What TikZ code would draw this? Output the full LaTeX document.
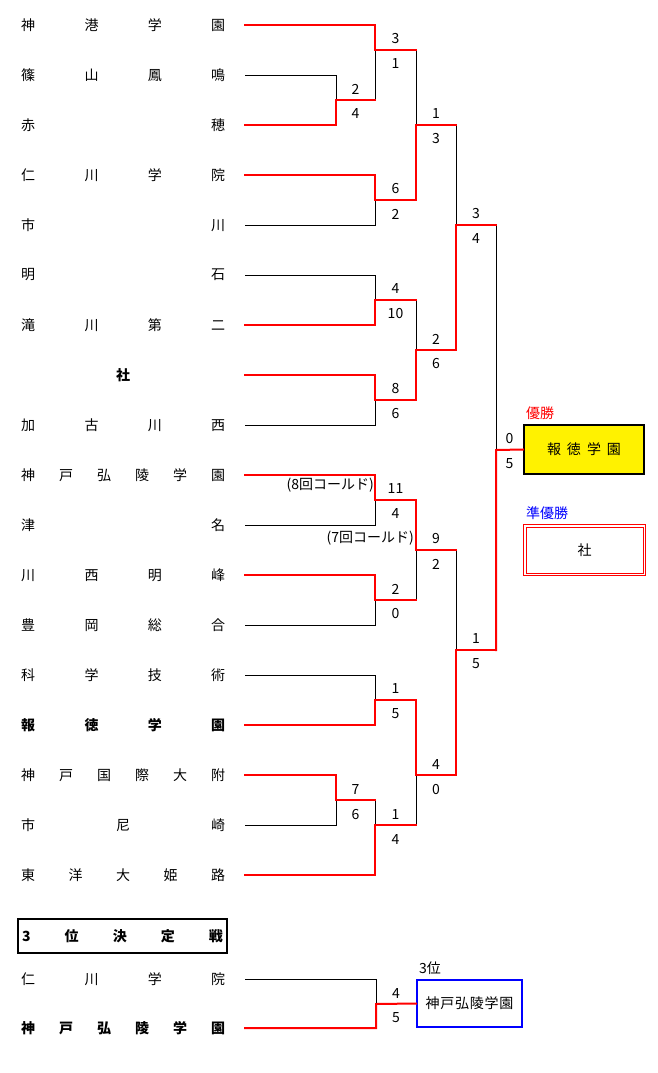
\documentclass[tikz,border=0pt]{standalone}
\usepackage{fontspec}
\setmainfont{Noto Sans CJK JP}
\usetikzlibrary{calc}
\tikzset{
  win/.style={draw=red, line width=2pt, line cap=rect},
  lose/.style={draw=black, line width=1pt},
  nm/.style={inner sep=0pt, anchor=west, font=\fontsize{14}{14}\selectfont},
  nmb/.style={nm, font=\fontsize{14}{14}\selectfont\bfseries},
  sc/.style={inner sep=0pt, font=\fontsize{14}{14}\selectfont},
}
\newcommand\mymatch[6]{%
  \coordinate (c#1) at (#2,#3);
  \coordinate (o#1) at (#4,#3);
  \node[sc] (h#1) at ({(#2+#4)/2},{#3-11}) {#5};
  \node[sc] (l#1) at ({(#2+#4)/2},{#3+14}) {#6};
}
\newcommand\spreadname[1]{\makebox[204pt]{#1}}
\begin{document}
\begin{tikzpicture}[x=1pt,y=-1pt]
\useasboundingbox (0,0) rectangle (658,1073);
% team line starts
\foreach \i in {0,...,17} \coordinate (s\i) at (245,{25+50*\i});
\coordinate (s18) at (245,979);
\coordinate (s19) at (245,1028);
% team names
\node[nm] (t0) at (21,25) {\spreadname{神\hfill 港\hfill 学\hfill 園}};
\node[nm] (t1) at (21,75) {\spreadname{篠\hfill 山\hfill 鳳\hfill 鳴}};
\node[nm] (t2) at (21,125) {\spreadname{赤\hfill 穂}};
\node[nm] (t3) at (21,175) {\spreadname{仁\hfill 川\hfill 学\hfill 院}};
\node[nm] (t4) at (21,225) {\spreadname{市\hfill 川}};
\node[nm] (t5) at (21,275) {\spreadname{明\hfill 石}};
\node[nm] (t6) at (21,325) {\spreadname{滝\hfill 川\hfill 第\hfill 二}};
\node[nmb] (t7) at (21,375) {\spreadname{\hfill 社\hfill}};
\node[nm] (t8) at (21,425) {\spreadname{加\hfill 古\hfill 川\hfill 西}};
\node[nm] (t9) at (21,475) {\spreadname{神\hfill 戸\hfill 弘\hfill 陵\hfill 学\hfill 園}};
\node[nm] (t10) at (21,525) {\spreadname{津\hfill 名}};
\node[nm] (t11) at (21,575) {\spreadname{川\hfill 西\hfill 明\hfill 峰}};
\node[nm] (t12) at (21,625) {\spreadname{豊\hfill 岡\hfill 総\hfill 合}};
\node[nm] (t13) at (21,675) {\spreadname{科\hfill 学\hfill 技\hfill 術}};
\node[nmb] (t14) at (21,725) {\spreadname{報\hfill 徳\hfill 学\hfill 園}};
\node[nm] (t15) at (21,775) {\spreadname{神\hfill 戸\hfill 国\hfill 際\hfill 大\hfill 附}};
\node[nm] (t16) at (21,825) {\spreadname{市\hfill 尼\hfill 崎}};
\node[nm] (t17) at (21,875) {\spreadname{東\hfill 洋\hfill 大\hfill 姫\hfill 路}};
\node[nm] (t18) at (21,979) {\spreadname{仁\hfill 川\hfill 学\hfill 院}};
\node[nmb] (t19) at (21,1028) {\spreadname{神\hfill 戸\hfill 弘\hfill 陵\hfill 学\hfill 園}};
% 3rd place title
\node[draw, line width=2pt, minimum width=209pt, minimum height=34pt, inner sep=0pt,
      font=\fontsize{14}{14}\selectfont\bfseries] (title3) at (122.5,936)
      {\makebox[201pt]{3\hfill 位\hfill 決\hfill 定\hfill 戦}};
% matches: name, column x, y, next x, top score, bottom score
\mymatch{A}{336}{100}{375}{2}{4}
\mymatch{B}{375}{50}{416}{3}{1}
\mymatch{C}{375}{200}{416}{6}{2}
\mymatch{D}{416}{125}{456}{1}{3}
\mymatch{E}{375}{300}{416}{4}{10}
\mymatch{F}{375}{400}{416}{8}{6}
\mymatch{G}{416}{350}{456}{2}{6}
\mymatch{H}{456}{225}{496}{3}{4}
\mymatch{I}{375}{500}{416}{11}{4}
\mymatch{J}{375}{600}{416}{2}{0}
\mymatch{K}{416}{550}{456}{9}{2}
\mymatch{L}{375}{700}{416}{1}{5}
\mymatch{M}{336}{800}{375}{7}{6}
\mymatch{N}{375}{825}{416}{1}{4}
\mymatch{O}{416}{775}{456}{4}{0}
\mymatch{P}{456}{650}{496}{1}{5}
\mymatch{Q}{496}{450}{523}{0}{5}
\mymatch{T}{376}{1004}{416}{4}{5}
% annotations
\node[sc, anchor=east] (cold8) at (374,485) {(8回コールド)};
\node[sc, anchor=east] (cold7) at (414,538) {(7回コールド)};
% result boxes
\node[draw=black, line width=2pt, fill=yellow, minimum width=120pt, minimum height=49pt, inner sep=0pt,
      font=\fontsize{14}{14}\selectfont] (champ) at (584,449.5)
      {\makebox[74pt]{報\hfill 徳\hfill 学\hfill 園}};
\node[draw=red, line width=1pt, minimum width=122pt, minimum height=51pt, inner sep=0pt,
      font=\fontsize{14}{14}\selectfont] (second) at (584.5,550) {社};
\draw[red, line width=1pt] ([shift={(3pt,3pt)}]second.south west)
      rectangle ([shift={(-3pt,-3pt)}]second.north east);
\node[draw=blue, line width=2pt, minimum width=105pt, minimum height=47pt, inner sep=0pt,
      font=\fontsize{14}{14}\selectfont] (third) at (469.5,1003.5)
      {\makebox[88pt]{神\hfill 戸\hfill 弘\hfill 陵\hfill 学\hfill 園}};
\node[sc, text=red, anchor=west] (lab1) at (526,413) {優勝};
\node[sc, text=blue, anchor=west] (lab2) at (526,513) {準優勝};
\node[sc, anchor=west] (lab3) at (419,968) {3位};
% losers
\draw[lose] (s1) -| (cA);
\draw[lose] (oA) -- (cB);
\draw[lose] (s4) -| (cC);
\draw[lose] (oB) -- (cD);
\draw[lose] (s5) -| (cE);
\draw[lose] (s8) -| (cF);
\draw[lose] (oE) -- (cG);
\draw[lose] (oD) -- (cH);
\draw[lose] (s10) -| (cI);
\draw[lose] (s12) -| (cJ);
\draw[lose] (oJ) -- (cK);
\draw[lose] (s13) -| (cL);
\draw[lose] (s16) -| (cM);
\draw[lose] (oM) -- (cN);
\draw[lose] (oN) -- (cO);
\draw[lose] (oK) -- (cP);
\draw[lose] (oH) -- (cQ);
\draw[lose] (s18) -| (cT);
% winners
\draw[win] (s2) -| (cA) -- (oA);
\draw[win] (s0) -| (cB) -- (oB);
\draw[win] (s3) -| (cC) -- (oC);
\draw[win] (oC) -- (cD) -- (oD);
\draw[win] (s6) -| (cE) -- (oE);
\draw[win] (s7) -| (cF) -- (oF);
\draw[win] (oF) -- (cG) -- (oG);
\draw[win] (oG) -- (cH) -- (oH);
\draw[win] (s9) -| (cI) -- (oI);
\draw[win] (s11) -| (cJ) -- (oJ);
\draw[win] (oI) -- (cK) -- (oK);
\draw[win] (s14) -| (cL) -- (oL);
\draw[win] (s15) -| (cM) -- (oM);
\draw[win] (s17) -| (cN) -- (oN);
\draw[win] (oL) -- (cO) -- (oO);
\draw[win] (oO) -- (cP) -- (oP);
\draw[win] (oP) -- (cQ) -- (champ.west);
\draw[win] (s19) -| (cT) -- (third.west);
\end{tikzpicture}
\end{document}
